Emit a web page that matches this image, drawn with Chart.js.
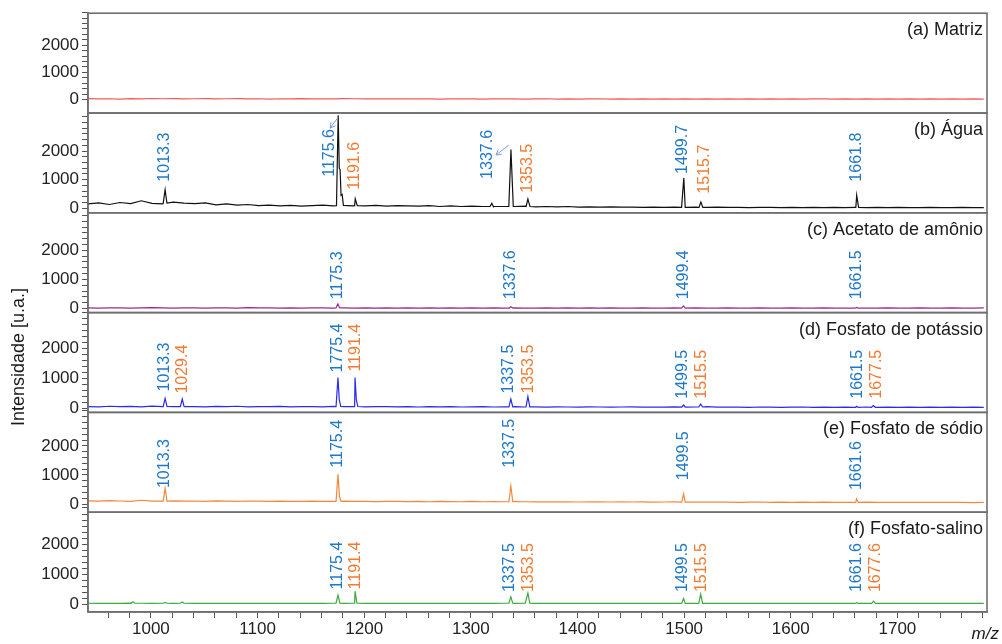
<!DOCTYPE html>
<html>
<head>
<meta charset="utf-8">
<script src="https://cdn.jsdelivr.net/npm/chart.js@4"></script>
<style>body{margin:0;background:#fff}</style>
</head>
<body>
<canvas id="spec" width="1002" height="644"></canvas>
<script>
// m/z grid for the baselines
var mzGrid = [941,951,961,971,981,991,1001,1011,1021,1031,
  1041,1051,1061,1071,1081,1091,1101,1111,1121,1131,
  1141,1151,1161,1171,1181,1191,1201,1211,1221,1231,
  1241,1251,1261,1271,1281,1291,1301,1311,1321,1331,
  1341,1351,1361,1371,1381,1391,1401,1411,1421,1431,
  1441,1451,1461,1471,1481,1491,1501,1511,1521,1531,
  1541,1551,1561,1571,1581,1591,1601,1611,1621,1631,
  1641,1651,1661,1671,1681,1691,1701,1711,1721,1731,
  1741,1751,1761,1771,1781];

// y ticks (labels only at 0, 1000, 2000)
var yTicks = [0,200,400,600,800,1000,1200,1400,1600,1800,2000,2200,2400,2600,2800,3000,3200];
var yTickLabels = [0,1000,2000];

// baseline intensities, one per panel
var baseA = [30,20,25,15,30,20,35,25,30,20, 25,30,20,25,30,20,25,15,25,20,
  30,20,25,20,30,25,20,25,20,25, 20,25,20,15,20,25,20,15,20,25,
  20,15,20,25,15,20,15,20,25,15, 20,15,20,15,20,15,20,15,20,15,
  20,15,20,15,20,15,20,15,20,20, 15,20,15,20,15,20,15,20,15,20,
  15,20,15,20,15];
var baseB = [150,190,130,200,160,260,170,150,210,180, 160,190,120,150,110,130,90,110,80,100,
  70,90,110,80,100,90,80,100,70,90, 80,70,90,60,80,60,70,60,70,60,
  60,70,50,60,50,60,40,50,40,50, 40,40,30,40,30,40,30,40,30,40,
  30,30,20,30,30,20,30,20,30,20, 30,20,30,20,30,20,30,20,20,30,
  20,20,30,20,20];
var baseC = [20,15,20,25,15,20,30,20,15,25, 20,15,20,25,15,30,20,25,15,20,
  15,20,25,15,20,15,20,15,25,15, 20,15,20,15,25,15,20,15,20,15,
  20,15,15,20,15,20,15,20,15,20, 15,15,20,15,15,20,15,20,15,15,
  20,15,15,20,15,15,20,15,15,20, 15,15,20,15,15,20,15,15,20,15,
  15,20,15,15,20];
var baseD = [70,60,80,65,75,60,85,70,65,80, 70,60,75,65,80,60,70,65,75,60,
  70,65,60,75,65,70,60,65,70,60, 65,55,70,60,65,55,60,65,55,60,
  65,55,60,50,60,55,50,60,55,50, 55,60,50,55,50,60,50,55,70,50,
  55,50,45,55,50,45,50,55,45,50, 45,50,45,55,45,50,45,50,45,50,
  45,50,45,50,45];
var baseE = [110,100,115,105,95,130,100,105,110,100, 105,95,110,100,95,105,100,95,100,90,
  95,100,90,95,100,90,95,85,90,95, 85,90,80,90,85,80,90,80,85,80,
  85,80,75,80,75,80,70,75,80,70, 75,70,75,65,70,75,65,70,65,70,
  65,60,65,70,60,65,60,65,60,65, 60,55,60,65,55,60,55,60,55,60,
  55,60,55,50,55];
var baseF = [40,35,40,35,45,40,35,40,35,40, 35,40,35,40,35,40,35,40,35,40,
  35,40,35,40,35,40,35,40,35,40, 35,40,35,40,35,40,35,40,35,40,
  35,40,35,40,35,40,35,40,35,40, 35,35,40,35,35,40,35,35,40,35,
  35,35,40,35,35,40,35,35,40,35, 35,35,40,35,35,40,35,35,40,35,
  35,35,40,35,35];

// peak points [m/z, intensity]
var peaksA = [];
var peaksB = [[1011.5,160],[1013.3,650],[1015,180],
  [1174,90],[1175.6,3250],[1176.6,1400],[1177.4,1350],[1178.3,450],[1179.3,480],[1180.5,100],
  [1189.8,80],[1191.6,330],[1193.5,90],
  [1318,60],[1319.6,170],[1321.2,60],
  [1335.6,60],[1337.6,2050],[1339.8,60],
  [1351.8,60],[1353.5,320],[1354.2,220],[1355.5,60],
  [1497.6,30],[1499.7,1060],[1501.9,30],
  [1513.9,30],[1515.7,220],[1517.5,30],
  [1660,30],[1661.8,450],[1663.6,30]];
var peaksC = [[1173.5,20],[1175.3,160],[1177,20],
  [1335.8,15],[1337.6,60],[1339.4,15],
  [1497.6,15],[1499.4,90],[1501.2,15],
  [1659.7,15],[1661.5,40],[1663.3,15]];
var peaksD = [[1011.5,70],[1013.3,340],[1015.1,70],
  [1027.6,65],[1029.4,320],[1031.2,70],
  [1173.6,70],[1175.4,1030],[1176.6,300],[1178,70],
  [1189.6,70],[1191.4,1030],[1192.6,300],[1194,70],
  [1335.7,60],[1337.5,320],[1339.3,60],
  [1351.7,60],[1353.5,400],[1355.3,60],
  [1497.7,50],[1499.5,120],[1501.3,50],
  [1513.7,55],[1515.5,150],[1517.3,55],
  [1659.7,45],[1661.5,80],[1663.3,45],
  [1675.7,45],[1677.5,100],[1679.3,45]];
var peaksE = [[1011.5,100],[1013.3,550],[1015.1,100],
  [1173.6,90],[1175.4,1020],[1176.8,250],[1178.4,90],
  [1335.7,80],[1337.5,620],[1339.3,80],
  [1497.7,65],[1499.5,350],[1501.3,65],
  [1659.8,55],[1661.6,180],[1663.4,55]];
var peaksF = [[981.3,40],[983.1,90],[984.9,40],
  [1011.5,40],[1013.3,70],[1015.1,40],
  [1027.6,40],[1029.4,80],[1031.2,40],
  [1173.6,40],[1175.4,310],[1177.2,40],
  [1189.6,40],[1191.4,440],[1193.2,40],
  [1335.7,40],[1337.5,250],[1339.3,40],
  [1351.7,40],[1353.5,380],[1355.3,40],
  [1497.7,35],[1499.5,200],[1501.3,35],
  [1513.7,35],[1515.5,340],[1517.3,35],
  [1659.8,35],[1661.6,60],[1663.4,35],
  [1675.8,35],[1677.6,110],[1679.4,35]];

// peak labels [m/z position, text, 'b'|'o', intensity where the text starts]
var labelsA = [];
var labelsB = [[1013.2,'1013.3','b',930],[1167.9,'1175.6','b',1100],[1191.3,'1191.6','o',650],
  [1316,'1337.6','b',1025],[1353.5,'1353.5','o',540],[1498.8,'1499.7','b',1200],
  [1519.4,'1515.7','o',510],[1662,'1661.8','b',930]];
var labelsC = [[1175.4,'1175.3','b',320],[1337.6,'1337.6','b',320],[1499.7,'1499.4','b',320],[1662,'1661.5','b',320]];
var labelsD = [[1013.2,'1013.3','b',570],[1030,'1029.4','o',500],[1175.4,'1775.4','b',1200],
  [1192.2,'1191.4','o',1230],[1335.7,'1337.5','b',500],[1354.4,'1353.5','o',500],
  [1498.8,'1499.5','b',330],[1516.6,'1515.5','o',330],[1662.9,'1661.5','b',330],[1680.7,'1677.5','o',330]];
var labelsE = [[1013.2,'1013.3','b',550],[1175.4,'1175.4','b',1250],[1336.6,'1337.5','b',1250],
  [1499.7,'1499.5','b',820],[1662,'1661.6','b',480]];
var labelsF = [[1175.4,'1175.4','b',500],[1192.2,'1191.4','o',500],[1336.6,'1337.5','b',410],
  [1354.4,'1353.5','o',410],[1498.8,'1499.5','b',410],[1516.6,'1515.5','o',410],
  [1662,'1661.6','b',410],[1680,'1677.6','o',410]];

// arrows in panel (b): [fromMz, fromY, toMz, toY]
var arrowsB = [[1175,3150,1168,2800],[1335.7,2210,1323.5,1860]];

var panelTitles = ['(a) Matriz','(b) Água','(c) Acetato de amônio','(d) Fosfato de potássio','(e) Fosfato de sódio','(f) Fosfato-salino'];
var lineColors = ['#f25b5b','#111111','#9a2a8c','#2a2af0','#f5873a','#3caa3c'];
var yMin = [-500,-160,-140,-125,-280,-250];
var yMax = [3180,3330,3290,3190,3150,3060];

var bases = [baseA,baseB,baseC,baseD,baseE,baseF];
var peaks = [peaksA,peaksB,peaksC,peaksD,peaksE,peaksF];
var labels = [labelsA,labelsB,labelsC,labelsD,labelsE,labelsF];
var ids = ['ya','yb','yc','yd','ye','yf'];
var blue = '#1f78c8', orange = '#f07c33';
var font = '"Liberation Sans", Arial, sans-serif';

function series(base, pk) {
  var pts = mzGrid.map(function (m, i) { return {x: m, y: base[i]}; });
  pk.forEach(function (p) { pts.push({x: p[0], y: p[1]}); });
  pts.sort(function (a, b) { return a.x - b.x; });
  return pts;
}

var datasets = ids.map(function (id, i) {
  return {
    data: series(bases[i], peaks[i]),
    yAxisID: id,
    borderColor: lineColors[i],
    borderWidth: 1.2,
    pointRadius: 0,
    tension: 0
  };
});

var scales = {
  x: {
    type: 'linear', position: 'bottom', min: 941, max: 1784,
    afterFit: function (s) { s.height = 32; },
    border: {color: '#6f6f6f', width: 1.6},
    grid: {drawOnChartArea: false, tickLength: 6, color: '#555'},
    ticks: {
      stepSize: 20, includeBounds: false, autoSkip: false, maxRotation: 0, minRotation: 0, padding: 1,
      color: '#222', font: {family: font, size: 17},
      callback: function (v) { return v % 100 === 0 ? String(v) : ''; }
    }
  }
};
// stacked axes are laid out bottom-up, so add the last panel first
for (var i = ids.length - 1; i >= 0; i--) {
  scales[ids[i]] = {
    type: 'linear', position: 'left', stack: 'panels', stackWeight: 1,
    min: yMin[i], max: yMax[i],
    afterFit: function (s) { s.width = 88; },
    afterBuildTicks: function (s) { s.ticks = yTicks.map(function (v) { return {value: v}; }); },
    border: {color: '#6f6f6f', width: 1.6},
    grid: {drawOnChartArea: false, tickLength: 6, color: '#555'},
    ticks: {
      autoSkip: false, padding: 3,
      color: '#222', font: {family: font, size: 17},
      callback: function (v) { return yTickLabels.indexOf(v) >= 0 ? String(v) : ''; }
    }
  };
}

var decor = {
  id: 'decor',
  afterDatasetsDraw: function (chart) {
    var ctx = chart.ctx, area = chart.chartArea, xs = chart.scales.x;
    ctx.save();
    ids.forEach(function (id, i) {
      var ys = chart.scales[id];
      ctx.strokeStyle = '#6f6f6f';
      ctx.lineWidth = 1.6;
      ctx.strokeRect(area.left, ys.top, area.right - area.left, ys.bottom - ys.top);

      ctx.fillStyle = '#1a1a1a';
      ctx.font = '18px ' + font;
      ctx.textAlign = 'right';
      ctx.textBaseline = 'middle';
      ctx.fillText(panelTitles[i], area.right - 4, ys.top + 17);

      ctx.font = '16px ' + font;
      labels[i].forEach(function (l) {
        ctx.save();
        ctx.translate(xs.getPixelForValue(l[0]), ys.getPixelForValue(l[3]));
        ctx.rotate(-Math.PI / 2);
        ctx.textAlign = 'left';
        ctx.fillStyle = l[2] === 'o' ? orange : blue;
        ctx.fillText(l[1], 0, 0);
        ctx.restore();
      });
    });

    // arrows in panel (b)
    var yb = chart.scales.yb;
    ctx.strokeStyle = '#7b9fe0';
    ctx.lineWidth = 1;
    arrowsB.forEach(function (a) {
      var x1 = xs.getPixelForValue(a[0]), y1 = yb.getPixelForValue(a[1]);
      var x2 = xs.getPixelForValue(a[2]), y2 = yb.getPixelForValue(a[3]);
      var ang = Math.atan2(y2 - y1, x2 - x1);
      ctx.beginPath();
      ctx.moveTo(x1, y1); ctx.lineTo(x2, y2);
      ctx.moveTo(x2 - 6 * Math.cos(ang - 0.5), y2 - 6 * Math.sin(ang - 0.5));
      ctx.lineTo(x2, y2);
      ctx.lineTo(x2 - 6 * Math.cos(ang + 0.5), y2 - 6 * Math.sin(ang + 0.5));
      ctx.stroke();
    });

    // axis titles
    ctx.fillStyle = '#1a1a1a';
    ctx.font = '18px ' + font;
    ctx.textAlign = 'center';
    ctx.textBaseline = 'middle';
    ctx.save();
    ctx.translate(19, 357);
    ctx.rotate(-Math.PI / 2);
    ctx.fillText('Intensidade [u.a.]', 0, 0);
    ctx.restore();
    ctx.font = 'italic 17px ' + font;
    ctx.textAlign = 'right';
    ctx.fillText('m/z', 999, 634);
    ctx.restore();
  }
};

var ctx = document.getElementById('spec').getContext('2d');
var myChart = new Chart(ctx, {
  type: 'line',
  data: {datasets: datasets},
  options: {
    responsive: false,
    animation: false,
    layout: {padding: {top: 13, right: 15, left: 0, bottom: 0}},
    plugins: {legend: {display: false}, tooltip: {enabled: false}},
    scales: scales
  },
  plugins: [decor]
});
</script>
</body>
</html>
